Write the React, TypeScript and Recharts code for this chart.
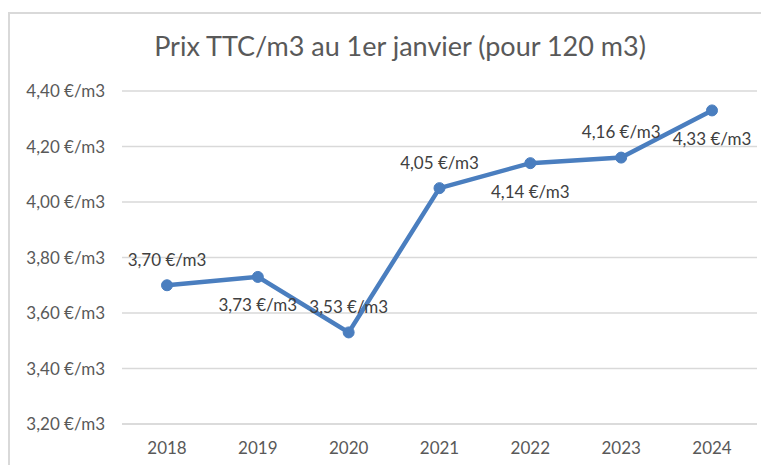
import React from "react";
import { LineChart, Line, XAxis, YAxis, CartesianGrid, LabelList } from "recharts";

const years = ["2018", "2019", "2020", "2021", "2022", "2023", "2024"];
const prices = [3.7, 3.73, 3.53, 4.05, 4.14, 4.16, 4.33];
const labelAbove = [true, false, true, true, false, true, false];
const yTicks = [3.2, 3.4, 3.6, 3.8, 4.0, 4.2, 4.4];

const data = years.map((y, i) => ({ year: y, price: prices[i], above: labelAbove[i] }));

const FONT = "Lato, 'Open Sans', sans-serif";
const fmt = (v: number) => v.toFixed(2).replace(".", ",") + "\u00a0€/m3";

const PointLabel = (props: any) => {
  const { x, y, index } = props;
  const above = labelAbove[index];
  return (
    <text
      x={x}
      y={above ? y - 26 : y + 28}
      textAnchor="middle"
      dominantBaseline="central"
      fill="#404040"
      fontSize={17}
      fontFamily={FONT}
    >
      {fmt(prices[index])}
    </text>
  );
};

export default function App() {
  return (
    <div style={{ position: "relative", width: 761, height: 457, fontFamily: FONT }}>
      <div
        style={{
          position: "absolute",
          left: 0,
          top: 4,
          width: 761,
          height: 453,
          borderTop: "2px solid #d9d9d9",
          borderLeft: "2px solid #d9d9d9",
          boxSizing: "border-box",
        }}
      />
      <div
        style={{
          position: "absolute",
          left: 0,
          width: 784,
          top: 21,
          textAlign: "center",
          fontSize: 27,
          color: "#595959",
          fontFamily: FONT,
        }}
      >
        Prix TTC/m3 au 1er janvier (pour 120 m3)
      </div>
      <div style={{ position: "absolute", left: 0, top: 0 }}>
        <LineChart
          width={761}
          height={457}
          data={data}
          margin={{ top: 83, right: 12, bottom: 11, left: 0 }}
        >
          <CartesianGrid vertical={false} stroke="#d9d9d9" strokeWidth={1.5} />
          <XAxis
            dataKey="year"
            height={30}
            padding={{ left: 45, right: 45 }}
            axisLine={{ stroke: "#d9d9d9", strokeWidth: 1.5 }}
            tickLine={false}
            tick={{ fill: "#595959", fontSize: 17, fontFamily: FONT }}
            tickMargin={12}
          />
          <YAxis
            width={114}
            domain={[3.2, 4.4]}
            ticks={yTicks}
            interval={0}
            axisLine={false}
            tickLine={false}
            tickFormatter={fmt}
            tick={{ fill: "#595959", fontSize: 17, fontFamily: FONT }}
            tickMargin={11}
          />
          <Line
            type="linear"
            dataKey="price"
            stroke="#4a7ebf"
            strokeWidth={4.5}
            dot={{ r: 5.5, fill: "#4a7ebf", stroke: "#4a7ebf", strokeWidth: 1 }}
            isAnimationActive={false}
          >
            <LabelList dataKey="price" content={PointLabel} />
          </Line>
        </LineChart>
      </div>
    </div>
  );
}
